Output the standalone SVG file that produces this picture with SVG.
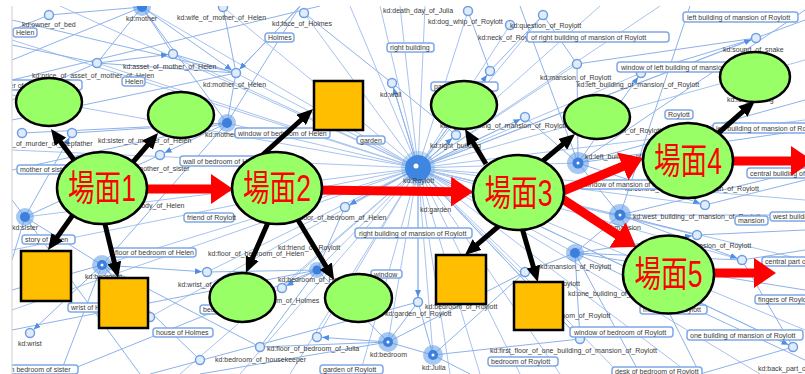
<svg xmlns="http://www.w3.org/2000/svg" width="805" height="374" viewBox="0 0 805 374">
<defs>
<style>
.e{stroke:#a7c3ee;stroke-width:1;fill:none}
.e2{stroke:#8db2ea;stroke-width:1;fill:none}
.ea{stroke:#8db2ea;stroke-width:1;marker-end:url(#ba)}
.n{fill:#e1ecfa;stroke:#6f9fe3;stroke-width:1.5}
.ho{fill:#5d9ae6;opacity:.55}
.hi{fill:#3c7fdc}
.hd{fill:#fff}
.b rect{fill:#fff;stroke:#7fa8e6;stroke-width:1.5}
.t,.b text{font-family:"Liberation Sans",Arial,sans-serif;font-size:7px;fill:#3a3a3a}
.sc{fill:#99ff66;stroke:#000;stroke-width:2.5}
.sq{fill:#ffbf00;stroke:#000;stroke-width:2.5}
.lbl{font-family:"Liberation Sans","Noto Sans CJK JP",sans-serif;font-size:36px;fill:#ff0000;text-anchor:middle}
.blk{stroke:#000;stroke-width:5;fill:none;marker-end:url(#hb)}
.red{stroke:#ff0000;stroke-width:9;fill:none;marker-end:url(#hr)}
</style>
<marker id="hb" markerUnits="userSpaceOnUse" markerWidth="16" markerHeight="14" refX="2" refY="7" orient="auto"><path d="M0,0L16,7L0,14z" fill="#000"/></marker>
<marker id="hr" markerUnits="userSpaceOnUse" markerWidth="22" markerHeight="30" refX="1" refY="15" orient="auto"><path d="M0,0L22,15L0,30z" fill="#ff0000"/></marker>
<marker id="ba" markerUnits="userSpaceOnUse" markerWidth="7" markerHeight="6" refX="12" refY="3" orient="auto"><path d="M0,0L7,3L0,6z" fill="#4f8fe3"/></marker>
<clipPath id="cp"><rect x="12" y="6" width="793" height="368"/></clipPath>
</defs>
<rect width="805" height="374" fill="#fff"/>
<g id="background-graph" clip-path="url(#cp)">
<path class="e" d="M418 168L12 40M418 168L12 95M418 168L12 150M418 168L12 250M418 168L12 310M418 168L60 6M418 168L142 7M418 168L223 7M418 168L304 13M418 168L350 6M418 168L380 6M418 168L400 6M418 168L425 6M418 168L468 11M418 168L510 25M418 168L543 15M418 168L600 6M418 168L660 6M418 168L756 38M418 168L805 60M418 168L805 120M418 168L805 200M418 168L805 260M418 168L805 330M418 168L760 374M418 168L690 374M418 168L620 374M418 168L560 374M418 168L520 374M418 168L480 374M418 168L450 374M418 168L433 355M418 168L388 342M418 168L360 374M418 168L317 337M418 168L290 374M418 168L240 374M418 168L180 374M418 168L102 265M418 168L25 217M418 168L97 63M418 168L173 54M418 168L236 73M418 168L227 123M418 168L392 83M418 168L490 71M418 168L577 64M418 168L641 73M418 168L578 163M418 168L620 215M418 168L575 253M418 168L705 205M418 168L697 235M418 168L742 260M418 168L580 339M418 168L793 347M418 168L282 288M418 168L207 272M418 168L150 317M418 168L345 207M418 168L456 135M418 168L525 117M418 168L418 302M418 168L317 270M418 168L525 272"/>
<path class="e2" d="M142 7L49 15M142 7L97 63M142 7L173 54M142 7L12 60M142 7L227 123M236 73L173 54M236 73L97 63M236 73L223 7M236 73L300 6M236 73L12 120M236 73L227 123M97 63L12 45M97 63L12 100M49 15L12 30M227 123L12 170M227 123L22 133M227 123L72 133M227 123L102 265M227 123L300 6M25 217L12 200M25 217L102 265M25 217L160 155M25 217L140 374M25 217L12 260M102 265L150 317M102 265L12 290M102 265L60 374M102 265L200 360M102 265L260 347M317 270L207 272M317 270L345 207M317 270L388 342M317 270L260 347M317 270L12 330M388 342L418 302M388 342L433 355M388 342L260 347M388 342L200 374M388 342L525 272M433 355L418 302M433 355L580 339M433 355L525 272M433 355L470 374M575 253L525 272M575 253L580 339M575 253L742 260M575 253L620 215M575 253L805 290M575 253L640 374M620 215L697 235M620 215L805 215M620 215L578 163M620 215L805 170M578 163L577 64M578 163L805 130M578 163L525 117M578 163L805 100M756 38L641 73M756 38L577 64M756 38L805 20M543 15L577 64M543 15L490 71M742 260L805 250M742 260L793 347M793 347L700 374M392 83L304 13M392 83L456 135M490 71L468 11M705 205L805 180M697 235L805 230M12 80L320 6M12 20L236 73M60 374L317 270M150 374L418 302M520 6L578 163M690 6L620 215M805 10L578 163M805 360L575 253M700 374L620 215"/>
<line class="ea" x1="97" y1="63" x2="173" y2="54"/>
<line class="ea" x1="142" y1="7" x2="236" y2="73"/>
<line class="ea" x1="300" y1="6" x2="236" y2="73"/>
<line class="ea" x1="418" y1="168" x2="392" y2="83"/>
<line class="ea" x1="418" y1="168" x2="456" y2="135"/>
<line class="ea" x1="418" y1="168" x2="345" y2="207"/>
<line class="ea" x1="418" y1="168" x2="418" y2="302"/>
<line class="ea" x1="418" y1="168" x2="525" y2="117"/>
<line class="ea" x1="418" y1="168" x2="490" y2="71"/>
<line class="ea" x1="578" y1="163" x2="641" y2="73"/>
<line class="ea" x1="578" y1="163" x2="705" y2="205"/>
<line class="ea" x1="620" y1="215" x2="742" y2="260"/>
<line class="ea" x1="575" y1="253" x2="697" y2="235"/>
<line class="ea" x1="418" y1="168" x2="580" y2="339"/>
<line class="ea" x1="102" y1="265" x2="30" y2="333"/>
<line class="ea" x1="102" y1="265" x2="207" y2="272"/>
<line class="ea" x1="317" y1="270" x2="282" y2="288"/>
<line class="ea" x1="388" y1="342" x2="317" y2="337"/>
<line class="ea" x1="418" y1="168" x2="756" y2="38"/>
<line class="ea" x1="418" y1="168" x2="793" y2="347"/>
<line class="ea" x1="227" y1="123" x2="160" y2="155"/>
<line class="ea" x1="25" y1="217" x2="72" y2="133"/>
<g>
<circle class="n" cx="49" cy="15" r="4.5"/><circle class="n" cx="173" cy="54" r="4.5"/><circle class="n" cx="97" cy="63" r="4.5"/><circle class="n" cx="236" cy="73" r="4.5"/><circle class="n" cx="223" cy="7" r="4.5"/><circle class="n" cx="304" cy="13" r="4.5"/><circle class="n" cx="468" cy="11" r="4.5"/><circle class="n" cx="510" cy="25" r="4.5"/><circle class="n" cx="392" cy="83" r="4.5"/><circle class="n" cx="490" cy="71" r="4.5"/><circle class="n" cx="525" cy="117" r="4.5"/><circle class="n" cx="543" cy="15" r="4.5"/><circle class="n" cx="756" cy="38" r="4.5"/><circle class="n" cx="577" cy="64" r="4.5"/><circle class="n" cx="641" cy="73" r="4.5"/><circle class="n" cx="22" cy="133" r="4.5"/><circle class="n" cx="72" cy="133" r="4.5"/><circle class="n" cx="160" cy="155" r="4.5"/><circle class="n" cx="345" cy="207" r="4.5"/><circle class="n" cx="456" cy="135" r="4.5"/><circle class="n" cx="705" cy="205" r="4.5"/><circle class="n" cx="697" cy="235" r="4.5"/><circle class="n" cx="30" cy="333" r="4.5"/><circle class="n" cx="207" cy="272" r="4.5"/><circle class="n" cx="150" cy="317" r="4.5"/><circle class="n" cx="200" cy="360" r="4.5"/><circle class="n" cx="260" cy="347" r="4.5"/><circle class="n" cx="282" cy="288" r="4.5"/><circle class="n" cx="418" cy="302" r="4.5"/><circle class="n" cx="317" cy="337" r="4.5"/><circle class="n" cx="525" cy="272" r="4.5"/><circle class="n" cx="742" cy="260" r="4.5"/><circle class="n" cx="793" cy="347" r="4.5"/><circle class="n" cx="580" cy="339" r="4.5"/>
</g>
<g>
<circle class="ho" cx="142" cy="7" r="9"/><circle class="hi" cx="142" cy="7" r="5"/>
<circle class="ho" cx="227" cy="123" r="9"/><circle class="hi" cx="227" cy="123" r="5"/>
<circle class="ho" cx="25" cy="217" r="9"/><circle class="hi" cx="25" cy="217" r="5"/>
<circle class="ho" cx="102" cy="265" r="10"/><circle class="hi" cx="102" cy="265" r="5"/><circle class="hd" cx="102" cy="265" r="1.5"/>
<circle class="ho" cx="317" cy="270" r="8"/><circle class="hi" cx="317" cy="270" r="4.5"/>
<circle class="ho" cx="388" cy="342" r="10"/><circle class="hi" cx="388" cy="342" r="5"/><circle class="hd" cx="388" cy="342" r="1.5"/>
<circle class="ho" cx="433" cy="355" r="10"/><circle class="hi" cx="433" cy="355" r="5"/><circle class="hd" cx="433" cy="355" r="1.5"/>
<circle class="ho" cx="575" cy="253" r="9"/><circle class="hi" cx="575" cy="253" r="5"/>
<circle class="ho" cx="620" cy="215" r="11"/><circle class="hi" cx="620" cy="215" r="5.5"/><circle class="hd" cx="620" cy="215" r="1.5"/>
<circle class="ho" cx="578" cy="163" r="11"/><circle class="hi" cx="578" cy="163" r="5.5"/><circle class="hd" cx="578" cy="163" r="1.5"/>
<circle cx="418" cy="168" r="17" fill="#5d9ae6" opacity=".35"/><circle cx="418" cy="168" r="13" fill="#3f86e0"/><circle class="hd" cx="416" cy="166" r="2.5"/>
</g>
<g>
<text class="t" x="22" y="27">kd:owner_of_bed</text>
<text class="t" x="126" y="21">kd:mother</text>
<text class="t" x="177" y="20">kd:wife_of_mother_of_Helen</text>
<text class="t" x="123" y="69">kd:asset_of_mother_of_Helen</text>
<text class="t" x="32" y="78">kd:price_of_asset_of_mother_of_Helen</text>
<text class="t" x="203" y="87">kd:mother_of_Helen</text>
<text class="t" x="272" y="26">kd:face_of_Holmes</text>
<text class="t" x="383" y="13">kd:death_day_of_Julia</text>
<text class="t" x="428" y="24">kd:dog_whip_of_Roylott</text>
<text class="t" x="510" y="28">kd:question_of_Roylott</text>
<text class="t" x="478" y="40">kd:neck_of_Roylott</text>
<text class="t" x="380" y="97">kd:wall</text>
<text class="t" x="723" y="52">kd:sound_of_snake</text>
<text class="t" x="540" y="80">kd:mansion_of_Roylott</text>
<text class="t" x="577" y="87">kd:left_building_of_mansion_of_Roylott</text>
<text class="t" x="727" y="102">kd:left_building</text>
<text class="t" x="12" y="146">_of_murder_of_stepfather</text>
<text class="t" x="98" y="143">kd:sister_of_mother_of_Helen</text>
<text class="t" x="205" y="137">kd:mother</text>
<text class="t" x="128" y="171">kd:mother_of_sister</text>
<text class="t" x="128" y="208">kd:body_of_Helen</text>
<text class="t" x="12" y="230">kd:sister</text>
<text class="t" x="430" y="148">kd:right_building</text>
<text class="t" x="440" y="128">kd:right_building_of_mansion_of_Roylott</text>
<text class="t" x="403" y="183">kd:Roylott</text>
<text class="t" x="420" y="212">kd:garden</text>
<text class="t" x="290" y="220">kd:door_of_bedroom_of_Helen</text>
<text class="t" x="278" y="250">kd:friend_of_Roylott</text>
<text class="t" x="208" y="256">kd:floor_of_bedroom_of_Helen</text>
<text class="t" x="85" y="279">kd:bedroom</text>
<text class="t" x="178" y="287">kd:wrist_of_Holmes</text>
<text class="t" x="278" y="282">kd:bedroom_of_Helen</text>
<text class="t" x="245" y="303">kd:bedroom_of_Holmes</text>
<text class="t" x="18" y="346">kd:wrist</text>
<text class="t" x="215" y="362">kd:bedroom_of_housekeeper</text>
<text class="t" x="425" y="309">kd:bedroom_of_Roylott</text>
<text class="t" x="385" y="316">kd:garden_of_Roylott</text>
<text class="t" x="267" y="351">kd:floor_of_bedroom_of_Julia</text>
<text class="t" x="370" y="357">kd:bedroom</text>
<text class="t" x="422" y="370">kd:Julia</text>
<text class="t" x="490" y="353">kd:first_floor_of_one_building_of_mansion_of_Roylott</text>
<text class="t" x="540" y="269">kd:mansion_of_Roylott</text>
<text class="t" x="520" y="286">kd:body_of_Roylott</text>
<text class="t" x="568" y="296">kd:one_building_of_mansion_of_Roylott</text>
<text class="t" x="538" y="318">kd:bedroom_of_Roylott</text>
<text class="t" x="758" y="371">kd:back_part_of_Roylott</text>
<text class="t" x="680" y="248">kd:mansion_of_Roylott</text>
<text class="t" x="625" y="191">kd:central_building_of_mansion_of_Roylott</text>
<text class="t" x="585" y="159">kd:left_building_of_mansion_of_Roylott</text>
<text class="t" x="590" y="133">kd:mansion_of_Roylott</text>
<text class="t" x="633" y="219">kd:west_building_of_mansion_of_Roylott</text>
<text class="t" x="605" y="230">kd:mansion</text>
</g>
<g class="b">
<g><rect x="13" y="28" width="24" height="9" rx="3"/><text x="16" y="35">Helen</text></g>
<g><rect x="122" y="77" width="23" height="9" rx="3"/><text x="125" y="84">Helen</text></g>
<g><rect x="-4" y="80" width="86" height="10" rx="3"/><text x="-1" y="87.5">sister of mother of Helen</text></g>
<g><rect x="265" y="33" width="29" height="9" rx="3"/><text x="268" y="40">Holmes</text></g>
<g><rect x="387" y="43" width="47" height="9" rx="3"/><text x="390" y="50">right building</text></g>
<g><rect x="683" y="12" width="115" height="10" rx="3"/><text x="687" y="19.5">left building of mansion of Roylott</text></g>
<g><rect x="527" y="32" width="142" height="10" rx="3"/><text x="531" y="39.5">of right building of mansion of Roylott</text></g>
<g><rect x="431" y="82" width="67" height="9" rx="3"/><text x="434" y="89">part of mansion</text></g>
<g><rect x="617" y="62" width="152" height="10" rx="3"/><text x="621" y="69.5">window of left building of mansion of Roylott</text></g>
<g><rect x="665" y="110" width="28" height="9" rx="3"/><text x="668" y="117">Roylott</text></g>
<g><rect x="357" y="136" width="28" height="8" rx="3"/><text x="360" y="142.5">garden</text></g>
<g><rect x="235" y="128" width="95" height="10" rx="3"/><text x="238" y="135.5">window of bedroom of Helen</text></g>
<g><rect x="180" y="156" width="86" height="10" rx="3"/><text x="183" y="163.5">wall of bedroom of Helen</text></g>
<g><rect x="17" y="165" width="52" height="9" rx="3"/><text x="20" y="172">mother of sister</text></g>
<g><rect x="184" y="213" width="50" height="9" rx="3"/><text x="187" y="220">friend of Roylott</text></g>
<g><rect x="22" y="235" width="53" height="9" rx="3"/><text x="25" y="242">story of Helen</text></g>
<g><rect x="355" y="228" width="117" height="10" rx="3"/><text x="359" y="235.5">right building of mansion of Roylott</text></g>
<g><rect x="112" y="248" width="84" height="9" rx="3"/><text x="115" y="255">floor of bedroom of Helen</text></g>
<g><rect x="68" y="303" width="50" height="9" rx="3"/><text x="71" y="310">wrist of Holmes</text></g>
<g><rect x="200" y="305" width="60" height="9" rx="3"/><text x="203" y="312">bedroom of Holmes</text></g>
<g><rect x="153" y="328" width="60" height="9" rx="3"/><text x="156" y="335">house of Holmes</text></g>
<g><rect x="4" y="365" width="74" height="9" rx="3"/><text x="9" y="372">in bedroom of sister</text></g>
<g><rect x="371" y="270" width="31" height="8" rx="3"/><text x="374" y="276.5">window</text></g>
<g><rect x="320" y="365" width="63" height="9" rx="3"/><text x="323" y="372">garden of Roylott</text></g>
<g><rect x="488" y="357" width="70" height="9" rx="3"/><text x="491" y="364">bedroom of Roylott</text></g>
<g><rect x="612" y="367" width="90" height="9" rx="3"/><text x="615" y="374">desk of bedroom of Roylott</text></g>
<g><rect x="687" y="330" width="116" height="10" rx="3"/><text x="690" y="337.5">one building of mansion of Roylott</text></g>
<g><rect x="570" y="327" width="103" height="10" rx="3"/><text x="574" y="334.5">window of bedroom of Roylott</text></g>
<g><rect x="640" y="305" width="67" height="9" rx="3"/><text x="643" y="312">mansion of Roylott</text></g>
<g><rect x="755" y="295" width="60" height="9" rx="3"/><text x="758" y="302">fingers of Roylott</text></g>
<g><rect x="762" y="257" width="60" height="9" rx="3"/><text x="765" y="264">central part of Roylott</text></g>
<g><rect x="770" y="212" width="120" height="9" rx="3"/><text x="773" y="219">west building of mansion of Roylott</text></g>
<g><rect x="735" y="216" width="33" height="9" rx="3"/><text x="738" y="223">mansion</text></g>
<g><rect x="747" y="168" width="120" height="10" rx="3"/><text x="750" y="175.5">central building of mansion of Roylott</text></g>
<g><rect x="713" y="123" width="115" height="10" rx="3"/><text x="716" y="130.5">left building of mansion of Roylott</text></g>
<g><rect x="580" y="180" width="100" height="9" rx="3"/><text x="583" y="187">window of mansion of Roylott</text></g>
</g>
</g>
<line x1="12" y1="6" x2="12" y2="374" stroke="#cfcfcf" stroke-width="1"/>
<g id="connectors">
<line class="blk" x1="77" y1="164" x2="59.3" y2="140.2"/>
<line class="blk" x1="130" y1="165.5" x2="148.9" y2="143.6"/>
<line class="blk" x1="75" y1="212" x2="56.1" y2="238.6"/>
<line class="blk" x1="103" y1="216" x2="114.8" y2="264.4"/>
<line class="blk" x1="258" y1="159" x2="302.7" y2="118.5"/>
<line class="blk" x1="270" y1="218" x2="251.5" y2="260.1"/>
<line class="blk" x1="295" y1="215" x2="326.9" y2="267.9"/>
<line class="blk" x1="486" y1="164" x2="472.2" y2="141"/>
<line class="blk" x1="538" y1="165" x2="564.3" y2="143"/>
<line class="blk" x1="500" y1="225" x2="475.6" y2="245.9"/>
<line class="blk" x1="522" y1="228" x2="533.9" y2="268.6"/>
<line class="blk" x1="715" y1="136" x2="744.4" y2="110.2"/>
<line class="red" x1="140" y1="189" x2="212" y2="189"/>
<line class="red" x1="315" y1="190" x2="452" y2="191.7"/>
<line class="red" x1="558" y1="193" x2="623.6" y2="166"/>
<line class="red" x1="558" y1="196" x2="618.4" y2="235.5"/>
<line class="red" x1="728" y1="161" x2="792" y2="161"/>
<line class="red" x1="710" y1="273" x2="755" y2="273"/>
</g>
<g id="leaf-1"><ellipse class="sc" cx="49" cy="102" rx="33" ry="24"/></g>
<g id="leaf-2"><ellipse class="sc" cx="181" cy="115" rx="33" ry="23"/></g>
<g id="leaf-3"><rect class="sq" x="21" y="251" width="50" height="50"/></g>
<g id="leaf-4"><rect class="sq" x="99" y="278" width="49" height="50"/></g>
<g id="leaf-5"><rect class="sq" x="314" y="81" width="49" height="49"/></g>
<g id="leaf-6"><ellipse class="sc" cx="242.5" cy="297.5" rx="33" ry="24.5"/></g>
<g id="leaf-7"><ellipse class="sc" cx="358.5" cy="298" rx="33.5" ry="24"/></g>
<g id="leaf-8"><ellipse class="sc" cx="464" cy="105" rx="33" ry="24"/></g>
<g id="leaf-9"><ellipse class="sc" cx="597" cy="117" rx="33" ry="22"/></g>
<g id="leaf-10"><rect class="sq" x="436" y="255" width="50" height="49"/></g>
<g id="leaf-11"><rect class="sq" x="514" y="282" width="49" height="48"/></g>
<g id="leaf-12"><ellipse class="sc" cx="755" cy="77" rx="35" ry="25"/></g>
<g id="scene-1"><ellipse class="sc" cx="102" cy="188" rx="45" ry="36"/><text class="lbl" x="102" y="201" textLength="68" lengthAdjust="spacingAndGlyphs">場面1</text></g>
<g id="scene-2"><ellipse class="sc" cx="277" cy="188" rx="45" ry="36"/><text class="lbl" x="277" y="201" textLength="68" lengthAdjust="spacingAndGlyphs">場面2</text></g>
<g id="scene-3"><ellipse class="sc" cx="518.5" cy="192.5" rx="45.5" ry="37.5"/><text class="lbl" x="518.5" y="206" textLength="68" lengthAdjust="spacingAndGlyphs">場面3</text></g>
<g id="scene-4"><ellipse class="sc" cx="688" cy="160.5" rx="45" ry="37.5"/><text class="lbl" x="688" y="174" textLength="68" lengthAdjust="spacingAndGlyphs">場面4</text></g>
<g id="scene-5"><ellipse class="sc" cx="668.5" cy="274.5" rx="45.5" ry="39"/><text class="lbl" x="668.5" y="287" textLength="68" lengthAdjust="spacingAndGlyphs">場面5</text></g>
</svg>
